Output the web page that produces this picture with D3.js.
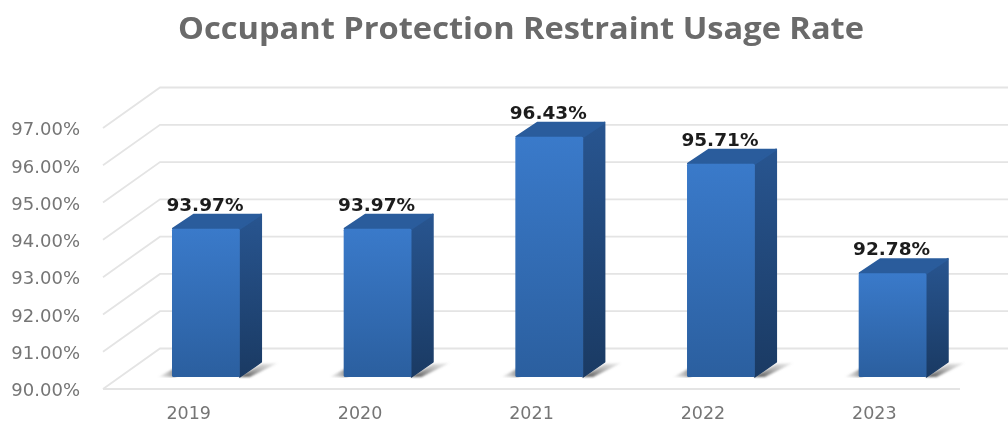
<!DOCTYPE html>
<html>
<head>
<meta charset="utf-8">
<script src="https://cdn.jsdelivr.net/npm/d3@7"></script>
<style>
html,body{margin:0;padding:0;background:#fff;}
svg{display:block;filter:blur(0.5px);}
text{font-family:"Open Sans",sans-serif;}
</style>
</head>
<body>
<svg id="c" width="1008" height="423"></svg>
<script>
const chartTitle = "Occupant Protection Restraint Usage Rate";
const categories = ["2019","2020","2021","2022","2023"];
const usageRate = [93.97,93.97,96.43,95.71,92.78];
const dataLabels = ["93.97%","93.97%","96.43%","95.71%","92.78%"];
const yTicks = [90,91,92,93,94,95,96,97];

const svg = d3.select("#c");
const defs = svg.append("defs");
function grad(id, c0, c1){
  const g = defs.append("linearGradient").attr("id",id).attr("x1",0).attr("y1",0).attr("x2",0).attr("y2",1);
  g.append("stop").attr("offset","0%").attr("stop-color",c0);
  g.append("stop").attr("offset","100%").attr("stop-color",c1);
}
grad("front","#3a7aca","#2b5f9f");
grad("side","#285590","#1a3a63");
const sr = defs.append("linearGradient").attr("id","shadowR").attr("x1",0).attr("y1",1).attr("x2",1).attr("y2",0);
sr.append("stop").attr("offset","0%").attr("stop-color","#444").attr("stop-opacity",0.95);
sr.append("stop").attr("offset","100%").attr("stop-color","#999").attr("stop-opacity",0.15);
const sl = defs.append("linearGradient").attr("id","shadowL").attr("x1",1).attr("y1",0).attr("x2",0).attr("y2",0);
sl.append("stop").attr("offset","0%").attr("stop-color","#666").attr("stop-opacity",0.8);
sl.append("stop").attr("offset","100%").attr("stop-color","#aaa").attr("stop-opacity",0.1);
defs.append("filter").attr("id","soft").append("feGaussianBlur").attr("stdDeviation",1.1);

// scales: front edge of the floor, and the plane of the bar fronts
const yFront = d3.scaleLinear().domain([90,97]).range([389,128]);
const yBar = d3.scaleLinear().domain([90,97]).range([377,115.5]);
const xCat = d3.scaleBand().domain(categories).range([103,960]).padding(0);
const xBar = d3.scaleBand().domain(categories).range([120.5,978]).paddingInner(0.605).paddingOuter(0.3);
const wallDx = 57, wallDy = -40.5;
const depthDx = 22, depthDy = -15;
const wallRight = 1008;

// title
svg.append("text").attr("x",521).attr("y",39).attr("text-anchor","middle")
  .attr("font-size",30).attr("font-weight",700).attr("fill","#6a6a6a")
  .attr("textLength",686).attr("lengthAdjust","spacingAndGlyphs").text(chartTitle);

// gridlines: side wall diagonal + back wall
const grid = svg.append("g").attr("fill","none").attr("stroke","#e4e4e4").attr("stroke-width",1.8);
grid.selectAll("path.g").data(yTicks).join("path").attr("class","g")
  .attr("d", d => d3.line()([
    [xCat.range()[0], yFront(d)],
    [xCat.range()[0]+wallDx, yFront(d)+wallDy],
    [wallRight, yFront(d)+wallDy]
  ]));
// floor front edge
grid.append("line").attr("x1",xCat.range()[0]).attr("x2",xCat.range()[1])
  .attr("y1",yFront(90)).attr("y2",yFront(90));

// y axis
const yAxis = d3.axisLeft(yFront).tickValues(yTicks).tickSize(0).tickPadding(0)
  .tickFormat(d => d3.format(".2f")(d)+"%");
const ya = svg.append("g").attr("transform","translate(80,1)").call(yAxis);
ya.select(".domain").remove();
ya.selectAll("text").attr("font-size",18).attr("fill","#757575")
  .style("font-family",'"DejaVu Sans",sans-serif');

// x axis
const xAxis = d3.axisBottom(xCat).tickSize(0).tickPadding(0);
const xa = svg.append("g").attr("transform","translate(0,418.5)").call(xAxis);
xa.select(".domain").remove();
xa.selectAll("text").attr("font-size",17.5).attr("fill","#757575").attr("dy",0).attr("y",0)
  .style("font-family",'"DejaVu Sans",sans-serif');

// bars
const rows = categories.map((c,i)=>({c, v:usageRate[i], label:dataLabels[i]}));
const bars = svg.selectAll("g.bar").data(rows).join("g").attr("class","bar");
const bw = xBar.bandwidth();
const base = yBar(90);

// floor shadows
bars.append("path").attr("fill","url(#shadowR)").attr("filter","url(#soft)")
  .attr("d", d => { const x=xBar(d.c); return d3.line()([
    [x+bw-1,base],[x+bw+depthDx,base+depthDy+2],[x+bw+depthDx+16,base+depthDy+1],[x+bw+10,base]]); });
bars.append("path").attr("fill","url(#shadowL)").attr("filter","url(#soft)")
  .attr("d", d => { const x=xBar(d.c); return d3.line()([
    [x-14,base],[x+3,base-9],[x+4,base]]); });

// side face
bars.append("path").attr("fill","url(#side)").attr("stroke","url(#side)").attr("stroke-width",1.5).attr("stroke-linejoin","round")
  .attr("d", d => { const x=xBar(d.c)+bw, t=yBar(d.v); return d3.line()([
    [x,t],[x+depthDx-0.5,t+depthDy+0.5],[x+depthDx-0.5,base+depthDy],[x,base]])+"Z"; });
// top face
bars.append("path").attr("fill","#2a5c9c").attr("stroke","#2a5c9c").attr("stroke-width",2).attr("stroke-linejoin","round")
  .attr("d", d => { const x=xBar(d.c), t=yBar(d.v); return d3.line()([
    [x+1,t],[x+depthDx,t+depthDy+1],[x+bw+depthDx-1,t+depthDy+1],[x+bw,t]])+"Z"; });
// front face
bars.append("rect").attr("x",d=>xBar(d.c)).attr("y",d=>yBar(d.v))
  .attr("width",bw).attr("height",d=>base-yBar(d.v)).attr("rx",1.5).attr("fill","url(#front)");

// data labels
bars.append("text").attr("x",d=>xBar(d.c)+bw/2-1).attr("y",d=>yBar(d.v)+depthDy-3)
  .attr("text-anchor","middle").attr("font-size",18.5).attr("font-weight",700).attr("fill","#1c1c1c")
  .style("font-family",'"DejaVu Sans",sans-serif')
  .text(d=>d.label);
</script>
</body>
</html>
